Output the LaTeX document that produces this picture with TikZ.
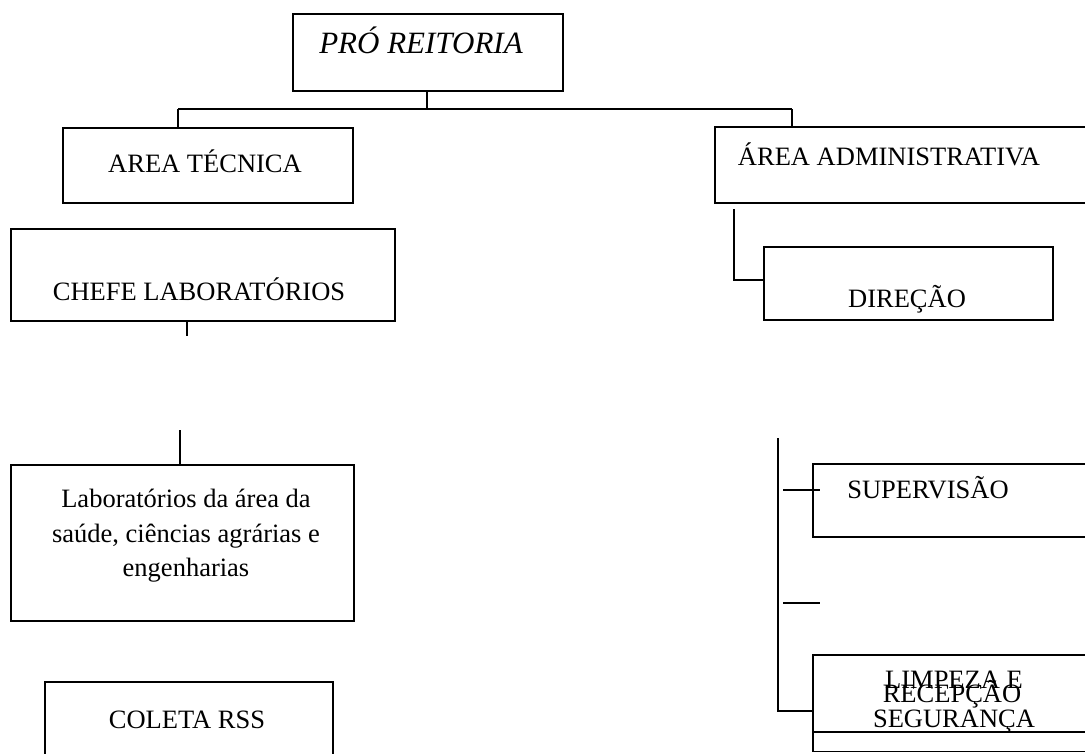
\documentclass[tikz,border=0pt]{standalone}
\usepackage{fontspec}
\setmainfont{Liberation Serif}
\begin{document}
\begin{tikzpicture}[x=1pt,y=-1pt,
  box/.style={draw, line width=1.8pt, inner sep=0pt},
  lbl/.style={anchor=base, inner sep=0pt, font=\fontsize{26.5}{34.5}\selectfont},
  conn/.style={line width=1.8pt}]
\useasboundingbox (0,0) rectangle (1085,753);
\clip (0,0) rectangle (1085,753);
% boxes
\node[box, minimum width=270pt, minimum height=77pt] (pro) at (428,52.5) {};
\node[box, minimum width=290pt, minimum height=75pt] (tec) at (208,165.5) {};
\node[box, minimum width=385pt, minimum height=76pt] (adm) at (907.5,165) {};
\node[box, minimum width=289pt, minimum height=73pt] (dir) at (908.5,283.5) {};
\node[box, minimum width=384pt, minimum height=92pt] (chefe) at (203,275) {};
\node[box, minimum width=343pt, minimum height=156pt] (lab) at (182.5,543) {};
\node[box, minimum width=288pt, minimum height=108pt] (col) at (189,736) {};
\node[box, minimum width=287pt, minimum height=73pt] (sup) at (956.5,500.5) {};
\node[box, minimum width=287pt, minimum height=96.5pt] (rec) at (956.5,703.25) {};
\node[box, minimum width=287pt, minimum height=77pt] (limp) at (956.5,693.5) {};
% texts
\node[lbl, font=\fontsize{31}{36}\selectfont\itshape] (tpro) at (421,53) {PRÓ REITORIA};
\node[lbl] (ttec) at (205,172) {AREA TÉCNICA};
\node[lbl] (tadm) at (889,165) {ÁREA ADMINISTRATIVA};
\node[lbl] (tdir) at (907,307) {DIREÇÃO};
\node[lbl] (tchefe) at (199,300) {CHEFE LABORATÓRIOS};
\node[lbl] (tlab1) at (186,507) {Laboratórios da área da};
\node[lbl] (tlab2) at (186,542) {saúde, ciências agrárias e};
\node[lbl] (tlab3) at (186,576) {engenharias};
\node[lbl] (tcol) at (187,728) {COLETA RSS};
\node[lbl] (tsup) at (928,498) {SUPERVISÃO};
\node[lbl] (tlimp1) at (954,688) {LIMPEZA E};
\node[lbl] (tlimp2) at (954,727) {SEGURANÇA};
\node[lbl] (trec) at (952,702) {RECEPÇÃO};
% connectors
\coordinate (bus) at (427,109);
\coordinate (busL) at (178,109);
\coordinate (busR) at (792,109);
\draw[conn] (bus |- pro.south) -- (bus);
\draw[conn] (busL) -- (busR);
\draw[conn] (busL) -- (busL |- tec.north);
\draw[conn] (busR) -- (busR |- adm.north);
\coordinate (ct) at (187,336);
\draw[conn] (ct |- chefe.south) -- (ct);
\coordinate (lt) at (180,430);
\draw[conn] (lt) -- (lt |- lab.north);
\coordinate (ad) at (734,209);
\draw[conn] (ad) |- ([yshift=3.5pt]dir.west);
\coordinate (rt) at (778,438);
\coordinate (rb) at (778,711);
\draw[conn] (rt) -- (rb) -- (rb -| rec.west);
\coordinate (s1) at (783,490);
\draw[conn] (s1) -- ++(37,0);
\coordinate (s2) at (783,603);
\draw[conn] (s2) -- ++(37,0);
\end{tikzpicture}
\end{document}
